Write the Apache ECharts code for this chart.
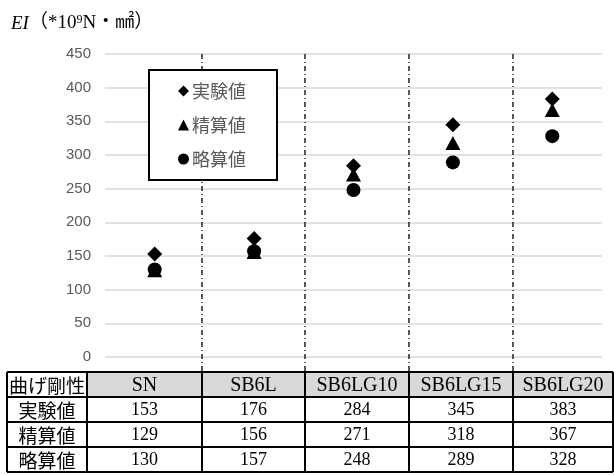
<!DOCTYPE html>
<html><head><meta charset="utf-8">
<script src="https://cdn.jsdelivr.net/npm/echarts@6/dist/echarts.min.js"></script>
<style>html,body{margin:0;padding:0;background:#fff}#c{width:614px;height:475px}</style>
</head><body><div id="c"></div>
<script>
const categories = ['SN', 'SB6L', 'SB6LG10', 'SB6LG15', 'SB6LG20'];
const seriesNames = ['実験値', '精算値', '略算値'];
const experimental = [153, 176, 284, 345, 383];
const precise = [129, 156, 271, 318, 367];
const approximate = [130, 157, 248, 289, 328];
const headerLabel = '曲げ剛性';
const yMin = 0, yMax = 450, yStep = 50;

const seriesData = [experimental, precise, approximate];
const symbols = ['diamond', 'triangle', 'circle'];
const symbolSizes = [[15, 15], [15, 14], 14];

// table layout
const colX = [7, 87, 202, 305, 409, 513, 613];
const rowY = [372, 397, 422, 447, 472];
const serif = '"Liberation Serif", "DejaVu Serif", "Noto Sans CJK JP", serif';
const sansJP = '"Noto Sans CJK JP", "Noto Sans", sans-serif';

const graphics = [];
for (let c = 0; c < categories.length; c++) {
  graphics.push({type: 'rect', z: 1, shape: {x: colX[c + 1], y: rowY[0], width: colX[c + 2] - colX[c + 1], height: rowY[1] - rowY[0]}, style: {fill: '#d9d9d9'}});
}
for (let c = 2; c <= 5; c++) {
  graphics.push({type: 'line', z: 2, shape: {x1: colX[c], y1: 54, x2: colX[c], y2: rowY[0]}, style: {stroke: '#222', lineWidth: 1.5, lineDash: [5, 3, 1, 3]}});
}
for (let r = 0; r < rowY.length; r++) {
  graphics.push({type: 'line', z: 3, shape: {x1: colX[0], y1: rowY[r], x2: colX[colX.length - 1], y2: rowY[r]}, style: {stroke: '#000', lineWidth: 2}});
}
for (let c = 0; c < colX.length; c++) {
  graphics.push({type: 'line', z: 3, shape: {x1: colX[c], y1: rowY[0], x2: colX[c], y2: rowY[rowY.length - 1]}, style: {stroke: '#000', lineWidth: 2}});
}
function cellText(col, row, text, font, size) {
  graphics.push({type: 'text', z: 4, x: (colX[col] + colX[col + 1]) / 2, y: (rowY[row] + rowY[row + 1]) / 2 + 1,
    style: {text: String(text), fontFamily: font, fontSize: size, fill: '#000', align: 'center', verticalAlign: 'middle'}});
}
cellText(0, 0, headerLabel, sansJP, 19);
categories.forEach((c, i) => cellText(i + 1, 0, c, serif, 20));
seriesNames.forEach((n, r) => {
  cellText(0, r + 1, n, sansJP, 19);
  seriesData[r].forEach((v, i) => cellText(i + 1, r + 1, v, serif, 18));
});

const chart = echarts.init(document.getElementById('c'), null, {renderer: 'canvas'});
chart.setOption({
  animation: false,
  backgroundColor: '#fff',
  title: {
    left: 6, top: 9,
    text: '{i|EI}{n|（*10}{s|9}{n|N・㎟）}',
    textStyle: {
      fontWeight: 'normal',
      rich: {
        i: {fontFamily: serif, fontStyle: 'italic', fontWeight: 'normal', fontSize: 19, color: '#000'},
        n: {fontFamily: serif, fontWeight: 'normal', fontSize: 19, color: '#000'},
        s: {fontFamily: serif, fontWeight: 'normal', fontSize: 12, color: '#000', verticalAlign: 'top', padding: [0, 0, 7, 0]}
      }
    }
  },
  grid: {left: 105, right: 12, top: 54, bottom: 118, containLabel: false},
  legend: {
    orient: 'vertical', left: 149, top: 70, z: 10,
    backgroundColor: '#fff', borderColor: '#000', borderWidth: 2,
    padding: [12, 31, 12, 29], itemGap: 16, itemWidth: 11, itemHeight: 11,
    textStyle: {fontFamily: sansJP, fontSize: 18, color: '#595959', padding: [0, 0, 0, -2]},
    data: seriesNames.map((n, i) => ({name: n, icon: symbols[i], itemStyle: {color: '#000', opacity: 1}}))
  },
  xAxis: {
    type: 'category', data: categories,
    axisLine: {show: false}, axisTick: {show: false}, axisLabel: {show: false}, splitLine: {show: false}
  },
  yAxis: {
    type: 'value', min: yMin, max: yMax, interval: yStep,
    axisLine: {show: false}, axisTick: {show: false},
    axisLabel: {fontFamily: 'Liberation Sans, Arial, sans-serif', fontSize: 15, color: '#595959', margin: 14},
    splitLine: {lineStyle: {color: '#d9d9d9', width: 1.5}}
  },
  series: seriesNames.map((n, i) => ({
    name: n, type: 'scatter', data: seriesData[i], symbol: symbols[i], symbolSize: symbolSizes[i],
    itemStyle: {color: '#000', opacity: 1}, z: 5 - i
  })),
  graphic: graphics
});
</script></body></html>
